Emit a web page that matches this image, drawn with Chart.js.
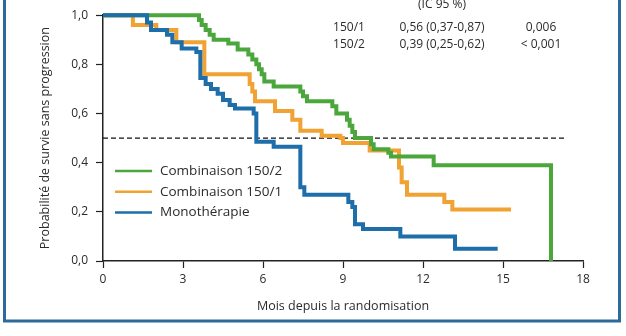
<!DOCTYPE html>
<html>
<head>
<meta charset="utf-8">
<script src="https://cdn.jsdelivr.net/npm/chart.js@4.4.1/dist/chart.umd.min.js"></script>
<style>
  html, body { margin: 0; padding: 0; background: #fff; }
  #wrap { width: 626px; height: 336px; }
</style>
</head>
<body>
<div id="wrap"><canvas id="km" width="626" height="336"></canvas></div>
<script>
// axis ticks
const monthTicks = [0, 3, 6, 9, 12, 15, 18];
const probTicks = [0, 0.2, 0.4, 0.6, 0.8, 1.0];

// Combinaison 150/2 (green) - event times (months) and survival after each step
const combo2Months = [0, 3.6, 3.7, 3.85, 4.0, 4.15, 4.7, 5.05, 5.45, 5.6, 5.75, 5.85, 5.95, 6.05, 6.4, 7.4, 7.5, 7.65, 8.6, 8.75, 9.15, 9.25, 9.35, 9.45, 10.05, 10.15, 10.7, 10.8, 12.4, 16.8];
const combo2Surv   = [1.0, 0.98, 0.96, 0.94, 0.92, 0.90, 0.885, 0.86, 0.84, 0.82, 0.80, 0.78, 0.76, 0.73, 0.71, 0.69, 0.67, 0.65, 0.63, 0.60, 0.575, 0.55, 0.525, 0.50, 0.475, 0.455, 0.44, 0.425, 0.39, 0.0];

// Combinaison 150/1 (orange)
const combo1Months = [0, 1.12, 2.0, 2.75, 3.8, 5.5, 5.6, 5.7, 6.45, 7.1, 7.4, 8.2, 8.9, 9.0, 10.0, 11.1, 11.2, 11.4, 12.8, 13.1, 15.3];
const combo1Surv   = [1.0, 0.96, 0.94, 0.89, 0.76, 0.72, 0.69, 0.65, 0.61, 0.575, 0.53, 0.51, 0.50, 0.48, 0.45, 0.38, 0.32, 0.27, 0.24, 0.21, 0.21];

// Monothérapie (blue)
const monoMonths = [0, 1.65, 1.8, 2.4, 2.6, 2.95, 3.5, 3.65, 3.85, 4.05, 4.3, 4.5, 4.75, 4.95, 5.65, 5.75, 6.4, 7.4, 7.55, 9.2, 9.35, 9.45, 9.75, 11.15, 13.2, 14.8];
const monoSurv   = [1.0, 0.97, 0.94, 0.92, 0.89, 0.865, 0.85, 0.745, 0.72, 0.70, 0.68, 0.655, 0.635, 0.62, 0.60, 0.485, 0.465, 0.30, 0.27, 0.24, 0.22, 0.15, 0.13, 0.10, 0.05, 0.05];

// median reference line
const medianMonths = [0, 17.35];
const medianSurv = [0.5, 0.5];

// legend + hazard ratio table
const seriesNames = ['Combinaison 150/2', 'Combinaison 150/1', 'Monothérapie'];
const seriesColors = ['#4ba63b', '#f0a232', '#1d6ea9'];
const hrHeader = '(IC 95 %)';
const hrGroups = ['150/1', '150/2'];
const hrValues = ['0,56 (0,37-0,87)', '0,39 (0,25-0,62)'];
const pValues = ['0,006', '< 0,001'];

const textColor = '#2b2b2b';
const FONT = '"Open Sans", "DejaVu Sans", sans-serif';

function toPoints(xs, ys) {
  return xs.map((x, i) => ({ x: x, y: ys[i] }));
}

const extras = {
  id: 'extras',
  afterDraw(chart) {
    const ctx = chart.ctx;
    const area = chart.chartArea;
    ctx.save();

    // legend inside the plot
    ctx.font = '13.5px ' + FONT;
    ctx.textBaseline = 'middle';
    ctx.textAlign = 'left';
    seriesNames.forEach((name, i) => {
      const y = 171 + i * 20.7;
      ctx.strokeStyle = seriesColors[i];
      ctx.lineWidth = 2.5;
      ctx.beginPath();
      ctx.moveTo(area.left + 12, y);
      ctx.lineTo(area.left + 49, y);
      ctx.stroke();
      ctx.fillStyle = textColor;
      ctx.fillText(name, area.left + 57, y);
    });

    // hazard ratio table, top right
    ctx.font = '12px ' + FONT;
    ctx.textAlign = 'center';
    ctx.fillText(hrHeader, 442, 5);
    hrGroups.forEach((g, i) => {
      const y = 28 + i * 17;
      ctx.fillText(g, 349, y);
      ctx.fillText(hrValues[i], 442, y);
      ctx.fillText(pValues[i], 541, y);
    });

    // blue frame (top edge is cut off in the figure)
    ctx.strokeStyle = '#2c6a9b';
    ctx.lineWidth = 3;
    ctx.beginPath();
    ctx.moveTo(4.5, 0);
    ctx.lineTo(4.5, 321);
    ctx.lineTo(619.5, 321);
    ctx.lineTo(619.5, 0);
    ctx.stroke();
    ctx.restore();
  }
};

const curveStyle = {
  stepped: 'before',
  borderWidth: 4,
  pointRadius: 0,
  fill: false,
  clip: false,
  borderJoinStyle: 'miter',
  borderCapStyle: 'butt'
};

new Chart(document.getElementById('km'), {
  type: 'line',
  data: {
    datasets: [
      Object.assign({ label: seriesNames[0], data: toPoints(combo2Months, combo2Surv), borderColor: seriesColors[0], order: 1 }, curveStyle),
      Object.assign({ label: seriesNames[1], data: toPoints(combo1Months, combo1Surv), borderColor: seriesColors[1], order: 2 }, curveStyle),
      Object.assign({ label: seriesNames[2], data: toPoints(monoMonths, monoSurv), borderColor: seriesColors[2], order: 0 }, curveStyle),
      {
        label: 'médiane',
        data: toPoints(medianMonths, medianSurv),
        borderColor: '#111',
        borderWidth: 1.2,
        borderDash: [5, 3],
        pointRadius: 0,
        fill: false,
        order: 3
      }
    ]
  },
  options: {
    responsive: false,
    animation: false,
    events: [],
    layout: { padding: { left: 0, right: 43, top: 15, bottom: 0 } },
    plugins: {
      legend: { display: false },
      tooltip: { enabled: false }
    },
    scales: {
      x: {
        type: 'linear',
        min: 0,
        max: 18,
        afterBuildTicks: s => { s.ticks = monthTicks.map(v => ({ value: v })); },
        afterFit: s => { s.height = 75; },
        ticks: {
          color: textColor,
          font: { family: FONT, size: 12 },
          padding: 4,
          maxRotation: 0,
          callback: v => String(v)
        },
        grid: { drawOnChartArea: false, tickLength: 7, tickColor: '#222', tickWidth: 1.2 },
        border: { color: '#222', width: 1.5 },
        title: {
          display: true,
          text: 'Mois depuis la randomisation',
          color: textColor,
          font: { family: FONT, size: 12.5 },
          padding: { top: 4, bottom: 22 }
        }
      },
      y: {
        min: 0,
        max: 1,
        afterBuildTicks: s => { s.ticks = probTicks.map(v => ({ value: v })); },
        afterFit: s => { s.width = 103; },
        ticks: {
          color: textColor,
          font: { family: FONT, size: 12 },
          padding: 8,
          callback: v => Number(v).toFixed(1).replace('.', ',')
        },
        grid: { drawOnChartArea: false, tickLength: 7, tickColor: '#222', tickWidth: 1.2 },
        border: { color: '#222', width: 1.5 },
        title: {
          display: true,
          text: 'Probabilité de survie sans progression',
          color: textColor,
          font: { family: FONT, size: 12.5 },
          padding: { top: 38, bottom: 4 }
        }
      }
    }
  },
  plugins: [extras]
});
</script>
</body>
</html>
